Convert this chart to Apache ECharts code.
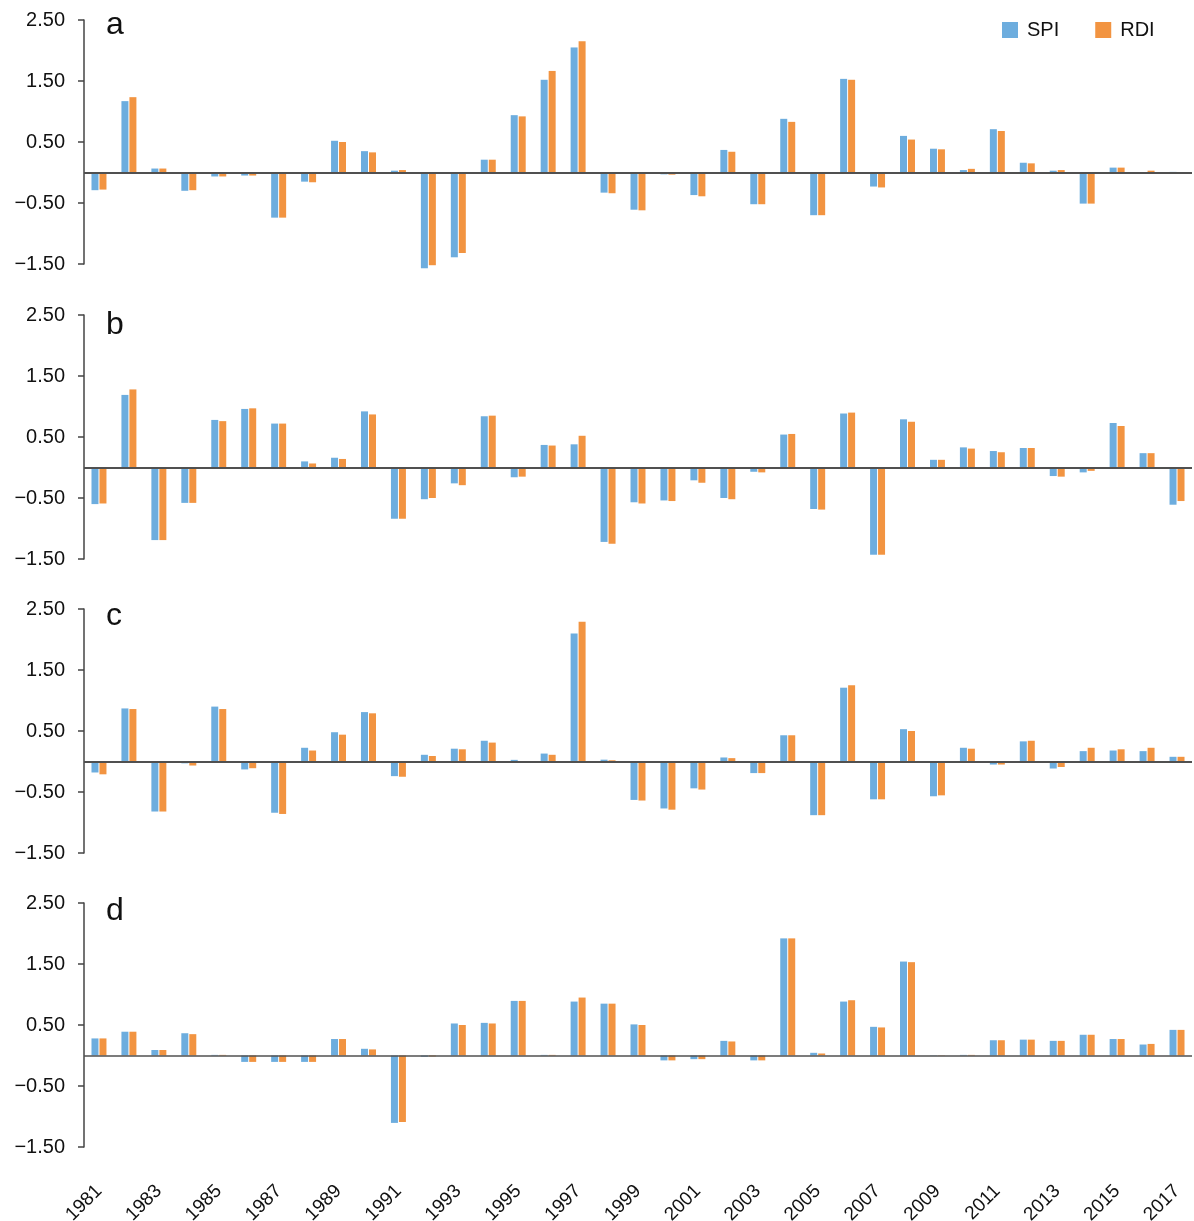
<!DOCTYPE html>
<html>
<head>
<meta charset="utf-8">
<script src="https://cdn.jsdelivr.net/npm/echarts@6/dist/echarts.min.js"></script>
<style>
html,body{margin:0;padding:0;background:#fff;}
#chart{width:1194px;height:1221px;}
</style>
</head>
<body>
<div id="chart"></div>
<script>
const years = ['1981','1982','1983','1984','1985','1986','1987','1988','1989','1990',
  '1991','1992','1993','1994','1995','1996','1997','1998','1999','2000',
  '2001','2002','2003','2004','2005','2006','2007','2008','2009','2010',
  '2011','2012','2013','2014','2015','2016','2017'];
const panelLabels = ['a','b','c','d'];
const yTickValues = [-1.5, -0.5, 0.5, 1.5, 2.5];

const spiA = [-0.29,1.17,0.065,-0.30,-0.065,-0.05,-0.74,-0.15,0.52,0.35,
  0.03,-1.57,-1.39,0.21,0.94,1.52,2.05,-0.33,-0.61,-0.03,
  -0.37,0.37,-0.52,0.88,-0.70,1.535,-0.23,0.60,0.39,0.04,
  0.71,0.16,0.03,-0.51,0.08,-0.01,0.01];
const rdiA = [-0.28,1.235,0.065,-0.29,-0.065,-0.05,-0.74,-0.16,0.50,0.33,
  0.04,-1.52,-1.32,0.21,0.92,1.665,2.15,-0.34,-0.62,-0.035,
  -0.39,0.34,-0.52,0.83,-0.70,1.52,-0.245,0.54,0.38,0.06,
  0.68,0.15,0.04,-0.51,0.08,0.03,0.005];

const spiB = [-0.60,1.19,-1.19,-0.58,0.78,0.96,0.72,0.10,0.16,0.92,
  -0.84,-0.52,-0.26,0.84,-0.16,0.37,0.38,-1.22,-0.57,-0.54,
  -0.21,-0.50,-0.07,0.54,-0.68,0.885,-1.43,0.79,0.126,0.33,
  0.27,0.32,-0.14,-0.08,0.73,0.235,-0.61];
const rdiB = [-0.59,1.28,-1.19,-0.58,0.76,0.97,0.72,0.066,0.14,0.87,
  -0.84,-0.50,-0.29,0.85,-0.15,0.36,0.52,-1.25,-0.59,-0.55,
  -0.25,-0.52,-0.08,0.55,-0.69,0.90,-1.43,0.75,0.126,0.31,
  0.25,0.32,-0.15,-0.055,0.68,0.235,-0.55];

const spiC = [-0.18,0.87,-0.82,-0.03,0.90,-0.13,-0.84,0.225,0.48,0.81,
  -0.24,0.11,0.21,0.34,0.027,0.13,2.10,0.03,-0.63,-0.77,
  -0.44,0.066,-0.19,0.43,-0.88,1.21,-0.62,0.53,-0.57,0.225,
  -0.05,0.33,-0.115,0.17,0.18,0.17,0.077];
const rdiC = [-0.21,0.86,-0.82,-0.066,0.86,-0.11,-0.86,0.18,0.44,0.79,
  -0.25,0.09,0.20,0.31,-0.01,0.11,2.29,0.02,-0.64,-0.79,
  -0.46,0.055,-0.19,0.43,-0.88,1.25,-0.62,0.50,-0.555,0.21,
  -0.05,0.34,-0.09,0.225,0.20,0.225,0.077];

const spiD = [0.28,0.39,0.09,0.365,0.01,-0.105,-0.105,-0.105,0.27,0.11,
  -1.105,-0.02,0.525,0.535,0.895,0.01,0.884,0.85,0.51,-0.08,
  -0.06,0.24,-0.08,1.92,0.044,0.884,0.47,1.54,0.005,0.01,
  0.25,0.26,0.24,0.34,0.27,0.18,0.42];
const rdiD = [0.28,0.39,0.09,0.35,0.01,-0.105,-0.105,-0.105,0.27,0.10,
  -1.09,-0.015,0.50,0.525,0.895,0.01,0.95,0.85,0.50,-0.08,
  -0.06,0.23,-0.08,1.92,0.033,0.906,0.46,1.53,0.005,0.01,
  0.25,0.26,0.24,0.34,0.27,0.19,0.42];

const spiSets = [spiA, spiB, spiC, spiD];
const rdiSets = [rdiA, rdiB, rdiC, rdiD];

const BLUE = '#6DADDE';
const ORANGE = '#F29441';
const AXIS = '#444444';
const FONT = 'Helvetica, "Liberation Sans", Arial, sans-serif';

const gridTops = [20, 315, 609, 903];
const gridH = 244;
const letterTops = [9, 309, 600, 895];

const grids = [], xAxes = [], yAxes = [], series = [], titles = [];
for (let i = 0; i < 4; i++) {
  grids.push({left: 84, width: 1108, top: gridTops[i], height: gridH, containLabel: false, outerBoundsMode: 'none'});
  xAxes.push({
    type: 'category', gridIndex: i, data: years, boundaryGap: true,
    axisLine: {show: false}, axisTick: {show: false},
    axisLabel: {
      show: i === 3, interval: 1, rotate: 45, margin: 41,
      fontSize: 19, color: '#111', fontFamily: FONT
    },
    splitLine: {show: false}
  });
  yAxes.push({
    type: 'value', gridIndex: i, min: -1.5, max: 2.5, interval: 0.5,
    axisLine: {show: true, lineStyle: {color: AXIS, width: 1.5}},
    axisTick: {show: true, length: 6, lineStyle: {color: AXIS, width: 1.5}, customValues: yTickValues},
    axisLabel: {
      customValues: yTickValues, margin: 19, fontSize: 20, color: '#111', fontFamily: FONT,
      formatter: v => (v < 0 ? '\u2212' : '') + Math.abs(v).toFixed(2)
    },
    splitLine: {show: false}
  });
  series.push({
    name: 'SPI', type: 'bar', xAxisIndex: i, yAxisIndex: i,
    data: spiSets[i], barWidth: 7, barGap: '14%', clip: false,
    itemStyle: {color: BLUE},
    markLine: {
      silent: true, symbol: ['none', 'none'], label: {show: false},
      lineStyle: {color: '#505050', width: i === 3 ? 1.5 : 2, type: 'solid'},
      data: [{yAxis: 0}], animation: false
    },
    z: 2
  });
  series.push({
    name: 'RDI', type: 'bar', xAxisIndex: i, yAxisIndex: i,
    data: rdiSets[i], barWidth: 7, barGap: '14%', clip: false,
    itemStyle: {color: ORANGE}, z: 2
  });
  titles.push({
    text: panelLabels[i], left: 106, top: letterTops[i], padding: 0,
    textStyle: {fontSize: 32, fontWeight: 'normal', color: '#111', fontFamily: FONT, lineHeight: 32}
  });
}

const chart = echarts.init(document.getElementById('chart'), null, {renderer: 'canvas'});
chart.setOption({
  animation: false,
  backgroundColor: '#fff',
  title: titles,
  legend: {
    data: [{name: 'SPI', itemStyle: {color: BLUE}}, {name: 'RDI', itemStyle: {color: ORANGE}}],
    left: 1002, top: 20, icon: 'rect', itemWidth: 16, itemHeight: 16, itemGap: 36,
    textStyle: {fontSize: 20, color: '#111', fontFamily: FONT, lineHeight: 20, padding: [0, 0, 0, 4]},
    padding: 0
  },
  grid: grids,
  xAxis: xAxes,
  yAxis: yAxes,
  series: series
});
</script>
</body>
</html>
